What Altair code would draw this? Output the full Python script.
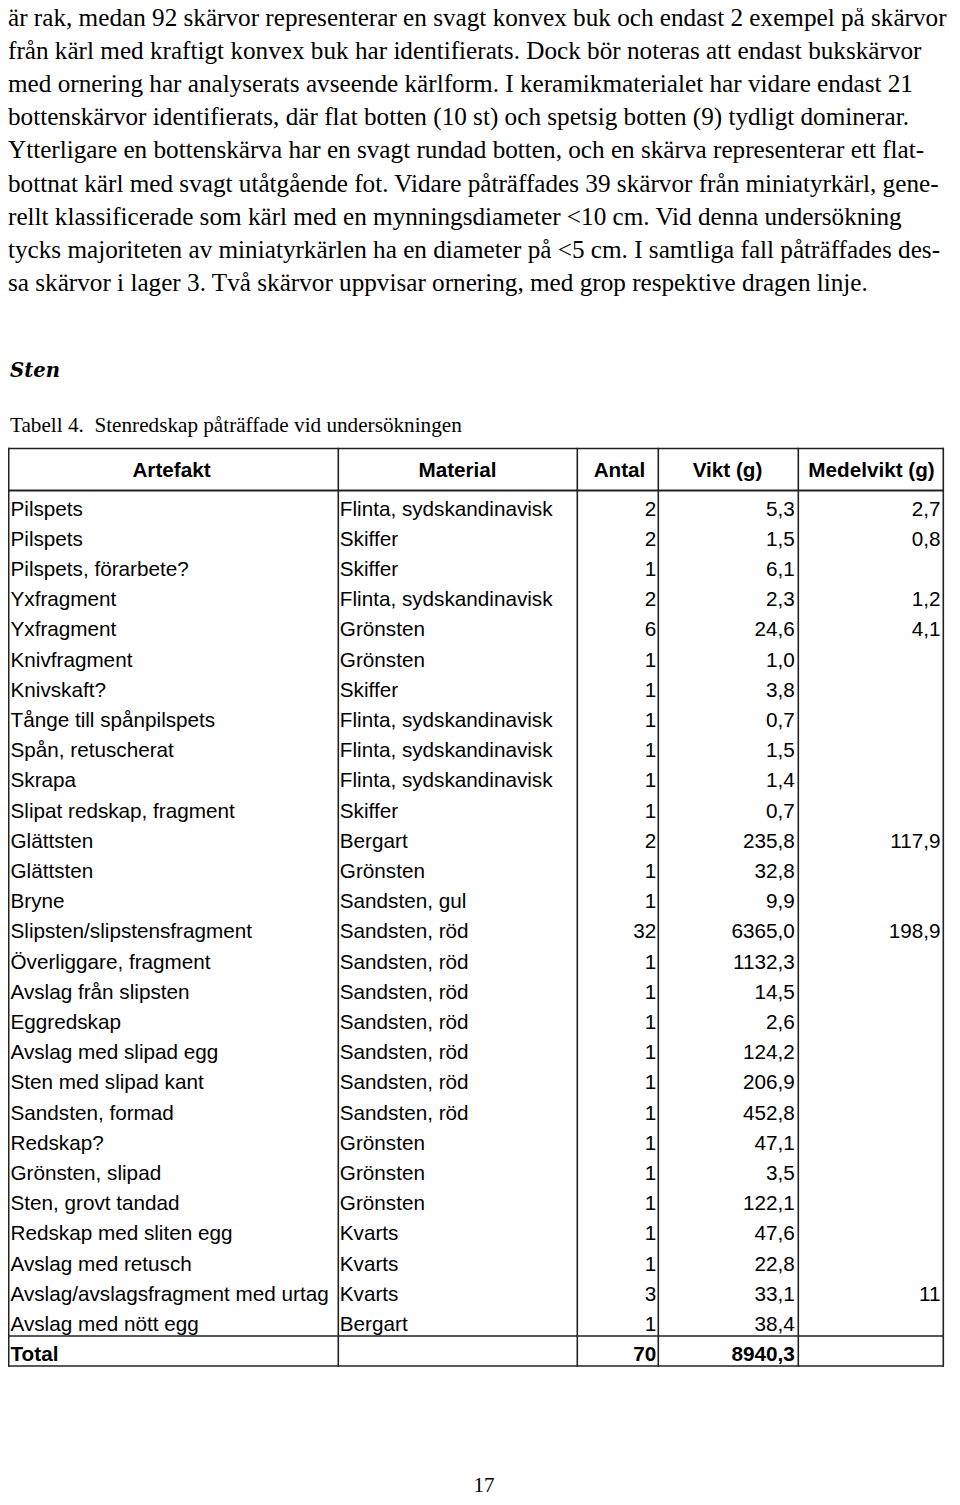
import altair as alt
import pandas as pd

# ---------------- content ----------------
para_lines = [
    "är rak, medan 92 skärvor representerar en svagt konvex buk och endast 2 exempel på skärvor",
    "från kärl med kraftigt konvex buk har identifierats. Dock bör noteras att endast bukskärvor",
    "med ornering har analyserats avseende kärlform. I keramikmaterialet har vidare endast 21",
    "bottenskärvor identifierats, där flat botten (10 st) och spetsig botten (9) tydligt dominerar.",
    "Ytterligare en bottenskärva har en svagt rundad botten, och en skärva representerar ett flat-",
    "bottnat kärl med svagt utåtgående fot. Vidare påträffades 39 skärvor från miniatyrkärl, gene-",
    "rellt klassificerade som kärl med en mynningsdiameter <10 cm. Vid denna undersökning",
    "tycks majoriteten av miniatyrkärlen ha en diameter på <5 cm. I samtliga fall påträffades des-",
    "sa skärvor i lager 3. Två skärvor uppvisar ornering, med grop respektive dragen linje.",
]
heading = "Sten"
caption = "Tabell 4.\u00a0\u00a0Stenredskap påträffade vid undersökningen"
page_number = "17"

headers = ["Artefakt", "Material", "Antal", "Vikt (g)", "Medelvikt (g)"]

artefakt = [
    "Pilspets", "Pilspets", "Pilspets, förarbete?", "Yxfragment", "Yxfragment",
    "Knivfragment", "Knivskaft?", "Tånge till spånpilspets", "Spån, retuscherat",
    "Skrapa", "Slipat redskap, fragment", "Glättsten", "Glättsten", "Bryne",
    "Slipsten/slipstensfragment", "Överliggare, fragment", "Avslag från slipsten",
    "Eggredskap", "Avslag med slipad egg", "Sten med slipad kant", "Sandsten, formad",
    "Redskap?", "Grönsten, slipad", "Sten, grovt tandad", "Redskap med sliten egg",
    "Avslag med retusch", "Avslag/avslagsfragment med urtag", "Avslag med nött egg",
]
material = [
    "Flinta, sydskandinavisk", "Skiffer", "Skiffer", "Flinta, sydskandinavisk", "Grönsten",
    "Grönsten", "Skiffer", "Flinta, sydskandinavisk", "Flinta, sydskandinavisk",
    "Flinta, sydskandinavisk", "Skiffer", "Bergart", "Grönsten", "Sandsten, gul",
    "Sandsten, röd", "Sandsten, röd", "Sandsten, röd", "Sandsten, röd", "Sandsten, röd",
    "Sandsten, röd", "Sandsten, röd", "Grönsten", "Grönsten", "Grönsten", "Kvarts",
    "Kvarts", "Kvarts", "Bergart",
]
antal = ["2", "2", "1", "2", "6", "1", "1", "1", "1", "1", "1", "2", "1", "1",
         "32", "1", "1", "1", "1", "1", "1", "1", "1", "1", "1", "1", "3", "1"]
vikt = ["5,3", "1,5", "6,1", "2,3", "24,6", "1,0", "3,8", "0,7", "1,5", "1,4", "0,7",
        "235,8", "32,8", "9,9", "6365,0", "1132,3", "14,5", "2,6", "124,2", "206,9",
        "452,8", "47,1", "3,5", "122,1", "47,6", "22,8", "33,1", "38,4"]
medelvikt = ["2,7", "0,8", "", "1,2", "4,1", "", "", "", "", "", "", "117,9", "", "",
             "198,9", "", "", "", "", "", "", "", "", "", "", "", "11", ""]
total_label = "Total"
total_antal = "70"
total_vikt = "8940,3"

# ---------------- layout (page pixel units) ----------------
PAGE_W, PAGE_H, MARGIN = 960, 1505, 8
W, H = PAGE_W - 2 * MARGIN, PAGE_H - 2 * MARGIN

para_x, para_base0, para_step = 8, 26, 33.1
head_x, head_base = 10, 377
cap_x, cap_base = 10, 432
pnum_x, pnum_base = 484, 1492

col_edges = [8.7, 338.3, 577.3, 658.3, 798.3, 943.3]
tab_top, head_bottom, total_top, tab_bottom = 448.5, 490.5, 1336, 1366
hdr_base = 477
hdr_centers = [171.5, 457.5, 619.5, 727.5, 871.5]
row_base0, row_step = 515.5, 30.2
left_x = [10.5, 339.8]
right_x = [656.2, 794.8, 940.6]

SERIF = "Liberation Serif"
SANS = "Liberation Sans"

XS = alt.Scale(domain=[MARGIN, MARGIN + W], range=[0, W], zero=False, nice=False)
YS = alt.Scale(domain=[MARGIN, MARGIN + H], range=[0, H], zero=False, nice=False)


def text_layer(df, align="left", font=SANS, size=20.7, weight="normal", style="normal"):
    return alt.Chart(df).mark_text(
        align=align, baseline="alphabetic", font=font, fontSize=size,
        fontWeight=weight, fontStyle=style, color="#000", clip=False,
    ).encode(
        x=alt.X("x:Q", scale=XS, axis=None),
        y=alt.Y("y:Q", scale=YS, axis=None),
        text="t:N",
    )


layers = []

# paragraph
para_df = pd.DataFrame({
    "t": para_lines,
    "x": [para_x] * len(para_lines),
    "y": [para_base0 + i * para_step for i in range(len(para_lines))],
})
layers.append(text_layer(para_df, font=SERIF, size=25.2))

# heading
layers.append(text_layer(pd.DataFrame({"t": [heading], "x": [head_x], "y": [head_base]}),
                         font="DejaVu Serif", size=19.6, weight="bold", style="italic"))
# caption
layers.append(text_layer(pd.DataFrame({"t": [caption], "x": [cap_x], "y": [cap_base]}),
                         font=SERIF, size=21.2))
# page number
layers.append(text_layer(pd.DataFrame({"t": [page_number], "x": [pnum_x], "y": [pnum_base]}),
                         align="center", font=SERIF, size=21))

# header row
hdr_df = pd.DataFrame({"t": headers, "x": hdr_centers, "y": [hdr_base] * len(headers)})
layers.append(text_layer(hdr_df, align="center", weight="bold"))

n = len(artefakt)
row_y = [row_base0 + i * row_step for i in range(n)]
total_y = row_base0 + n * row_step

left_rows = []
for col_vals, xx in zip([artefakt, material], left_x):
    for v, yy in zip(col_vals, row_y):
        if v:
            left_rows.append({"t": v, "x": xx, "y": yy})
layers.append(text_layer(pd.DataFrame(left_rows), align="left"))

right_rows = []
for col_vals, xx in zip([antal, vikt, medelvikt], right_x):
    for v, yy in zip(col_vals, row_y):
        if v:
            right_rows.append({"t": v, "x": xx, "y": yy})
layers.append(text_layer(pd.DataFrame(right_rows), align="right"))

# total row (bold)
layers.append(text_layer(pd.DataFrame({"t": [total_label], "x": [left_x[0]], "y": [total_y]}),
                         align="left", weight="bold"))
layers.append(text_layer(pd.DataFrame({"t": [total_antal, total_vikt],
                                       "x": right_x[:2], "y": [total_y, total_y]}),
                         align="right", weight="bold"))

# table rules
rules = []
for yy, sw in [(tab_top, 1.6), (head_bottom, 2.2), (total_top, 1.6), (tab_bottom, 1.6)]:
    rules.append({"x": col_edges[0] - 0.7, "x2": col_edges[-1] + 0.7, "y": yy, "y2": yy, "sw": sw})
for xx in col_edges:
    rules.append({"x": xx, "x2": xx, "y": tab_top - 0.7, "y2": tab_bottom + 0.7, "sw": 1.6})
rules_df = pd.DataFrame(rules)
layers.append(
    alt.Chart(rules_df).mark_rule(color="#222", clip=False).encode(
        x=alt.X("x:Q", scale=XS, axis=None),
        x2="x2:Q",
        y=alt.Y("y:Q", scale=YS, axis=None),
        y2="y2:Q",
        strokeWidth=alt.StrokeWidth("sw:Q", scale=None),
    )
)

chart = alt.layer(*layers).properties(
    width=W, height=H, padding=0, autosize=alt.AutoSizeParams(type="none"),
    background="white",
).configure_view(stroke=None)

chart.save("out.html", embed_options={"renderer": "svg", "actions": False})
